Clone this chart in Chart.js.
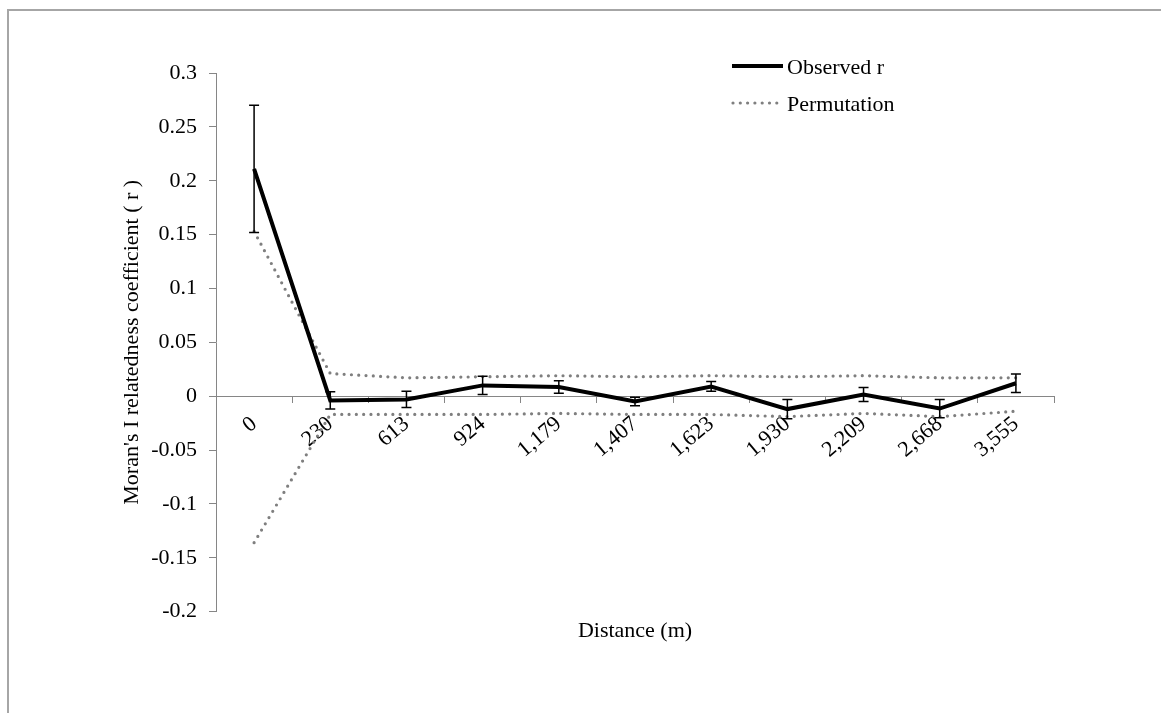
<!DOCTYPE html>
<html>
<head>
<meta charset="utf-8">
<script src="https://cdn.jsdelivr.net/npm/chart.js@4/dist/chart.umd.min.js"></script>
<style>
  html, body { margin: 0; padding: 0; background: #fff; }
  #wrap { position: relative; width: 1161px; height: 715px; overflow: hidden; }
  #frame {
    position: absolute; left: 7px; top: 9px; width: 1200px; height: 704px;
    border-left: 2px solid #a6a6a6; border-top: 2px solid #a6a6a6;
    box-sizing: border-box;
  }
  #chart { position: absolute; left: 0; top: 0; }
</style>
</head>
<body>
<div id="wrap">
  <div id="frame"></div>
  <canvas id="chart" width="1161" height="715"></canvas>
</div>
<script>
// ===================================
// Data
// ===================================
const distances = ["0", "230", "613", "924", "1,179", "1,407", "1,623", "1,930", "2,209", "2,668", "3,555"];
const observedR = [0.211, -0.004, -0.003, 0.010, 0.0085, -0.005, 0.009, -0.012, 0.0015, -0.0115, 0.012];
const observedErr = [0.059, 0.008, 0.0075, 0.0085, 0.0057, 0.004, 0.0045, 0.009, 0.0065, 0.0085, 0.0085];
const permUpper = [0.153, 0.021, 0.017, 0.018, 0.019, 0.018, 0.019, 0.018, 0.019, 0.017, 0.017];
const permLower = [-0.136, -0.017, -0.017, -0.017, -0.016, -0.017, -0.017, -0.019, -0.016, -0.019, -0.014];

const FONT = "'Liberation Serif', 'Times New Roman', serif";
const AXIS_GRAY = "#868686";
const DOT_GRAY = "#7f7f7f";

Chart.defaults.font.family = FONT;
Chart.defaults.font.size = 22;
Chart.defaults.color = "#000";

// ===================================
// Error bars on the observed series
// ===================================
const errorBars = {
  id: "errorBars",
  afterDatasetsDraw(chart) {
    const meta = chart.getDatasetMeta(0);
    const yScale = chart.scales.y;
    const ctx = chart.ctx;
    ctx.save();
    ctx.strokeStyle = "#000";
    ctx.lineWidth = 1.5;
    meta.data.forEach((pt, i) => {
      const top = yScale.getPixelForValue(observedR[i] + observedErr[i]);
      const bot = yScale.getPixelForValue(observedR[i] - observedErr[i]);
      ctx.beginPath();
      ctx.moveTo(pt.x, top);
      ctx.lineTo(pt.x, bot);
      ctx.moveTo(pt.x - 5, top);
      ctx.lineTo(pt.x + 5, top);
      ctx.moveTo(pt.x - 5, bot);
      ctx.lineTo(pt.x + 5, bot);
      ctx.stroke();
    });
    ctx.restore();
  },
};

// ===================================
// Legend (vertical, top right)
// ===================================
const sideLegend = {
  id: "sideLegend",
  afterDraw(chart) {
    const ctx = chart.ctx;
    const ds = chart.data.datasets;
    const rows = [ds[0], ds[1]];
    const x0 = 732;
    const y0 = 66;
    const gap = 37;
    ctx.save();
    rows.forEach((d, i) => {
      const y = y0 + i * gap;
      ctx.beginPath();
      ctx.strokeStyle = d.borderColor;
      ctx.lineWidth = d.borderWidth;
      ctx.lineCap = d.borderCapStyle || "butt";
      ctx.setLineDash(d.borderDash || []);
      ctx.moveTo(x0 + (i ? 1 : 0), y);
      ctx.lineTo(x0 + (i ? 47 : 51), y);
      ctx.stroke();
      ctx.setLineDash([]);
      ctx.fillStyle = "#000";
      ctx.font = "22px " + FONT;
      ctx.textBaseline = "middle";
      ctx.textAlign = "left";
      ctx.fillText(d.label, 787, y + 2);
    });
    ctx.restore();
  },
};

// ===================================
// Chart
// ===================================
const ctx = document.getElementById("chart").getContext("2d");
new Chart(ctx, {
  type: "line",
  data: {
    labels: distances,
    datasets: [
      {
        label: "Observed r",
        data: observedR,
        borderColor: "#000",
        borderWidth: 4,
        pointRadius: 0,
        tension: 0,
        order: 0,
      },
      {
        label: "Permutation",
        data: permUpper,
        borderColor: DOT_GRAY,
        borderWidth: 3.2,
        borderDash: [0, 7.3],
        borderCapStyle: "round",
        pointRadius: 0,
        tension: 0,
        order: 1,
      },
      {
        label: "Permutation",
        data: permLower,
        borderColor: DOT_GRAY,
        borderWidth: 3.2,
        borderDash: [0, 7.3],
        borderCapStyle: "round",
        pointRadius: 0,
        tension: 0,
        order: 1,
      },
    ],
  },
  options: {
    responsive: false,
    animation: false,
    devicePixelRatio: 1,
    layout: {
      padding: { left: 110, right: 107, top: 73, bottom: 71 },
    },
    plugins: {
      legend: { display: false },
      tooltip: { enabled: false },
      title: {
        display: true,
        position: "bottom",
        fullSize: false,
        text: "Distance (m)",
        color: "#000",
        font: { family: FONT, size: 22, weight: "normal" },
        padding: { top: 6, bottom: 0 },
      },
    },
    scales: {
      x: {
        type: "category",
        position: { y: 0 },
        offset: true,
        afterFit(scale) {
          scale.height = 0;
        },
        border: { display: true, color: AXIS_GRAY, width: 1 },
        grid: {
          display: true,
          offset: true,
          drawOnChartArea: false,
          drawTicks: true,
          tickLength: 6,
          color: AXIS_GRAY,
        },
        ticks: {
          autoSkip: false,
          minRotation: 40,
          maxRotation: 40,
          padding: 9,
          color: "#000",
          font: { family: FONT, size: 22 },
        },
      },
      y: {
        min: -0.2,
        max: 0.3,
        afterFit(scale) {
          scale.width = 106;
        },
        border: { display: true, color: AXIS_GRAY, width: 1 },
        grid: {
          display: true,
          drawOnChartArea: false,
          drawTicks: true,
          tickLength: 7,
          color: AXIS_GRAY,
        },
        ticks: {
          stepSize: 0.05,
          padding: 12,
          color: "#000",
          font: { family: FONT, size: 22 },
          callback: function (value) {
            return String(parseFloat(Number(value).toFixed(2)));
          },
        },
        title: {
          display: true,
          text: "Moran's I relatedness coefficient ( r )",
          color: "#000",
          font: { family: FONT, size: 22 },
          padding: { top: 9, bottom: 0 },
        },
      },
    },
  },
  plugins: [errorBars, sideLegend],
});
</script>
</body>
</html>
